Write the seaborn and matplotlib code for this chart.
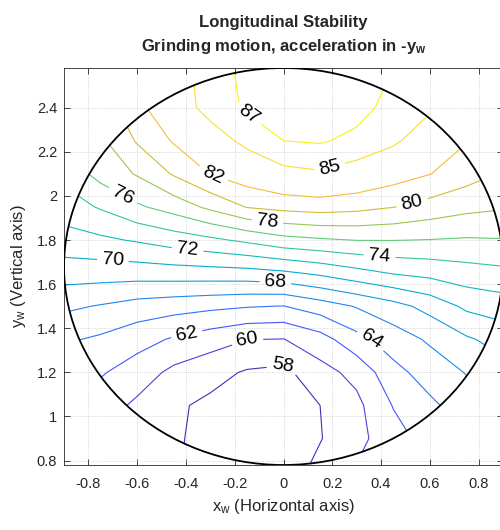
import numpy as np
import matplotlib
matplotlib.use("Agg")
import matplotlib.pyplot as plt
from matplotlib.colors import LinearSegmentedColormap, Normalize
from matplotlib.patches import Circle
from matplotlib.ticker import FormatStrFormatter
import seaborn as sns

# grid of the stability value
x_grid = [-0.9, -0.75, -0.6, -0.45, -0.3, -0.15, 0.0, 0.15, 0.3, 0.45, 0.6, 0.75, 0.9]
y_grid = [0.75, 0.9, 1.05, 1.2, 1.35, 1.5, 1.65, 1.8, 1.95, 2.1, 2.25, 2.4, 2.55, 2.7]
# one row per y value (bottom to top), one column per x value
z_values = [
    [59.8, 59.2, 58.6, 58.2, 57.2, 56.9, 57.0, 58.6, 60.2, 60.6, 62.2, 63.6, 64.6],
    [60.6, 60.0, 59.0, 58.3, 57.3, 56.9, 57.0, 57.9, 59.4, 61.2, 62.8, 64.2, 65.2],
    [61.6, 61.0, 59.6, 58.3, 57.6, 57.2, 57.2, 58.0, 59.5, 62.1, 63.6, 65.0, 66.0],
    [62.8, 62.2, 61.06, 59.5, 58.65, 57.8, 57.5, 59.3, 60.59, 63.38, 64.87, 66.1, 67.2],
    [64.3, 63.68, 62.72, 61.79, 60.9, 60.05, 59.95, 61.17, 63.35, 65.0, 66.29, 67.73, 68.8],
    [66.4, 65.86, 65.2, 64.81, 64.46, 64.14, 63.95, 65.01, 66.14, 67.29, 68.68, 70.41, 71.0],
    [68.9, 68.89, 68.9, 69.03, 69.13, 69.24, 69.64, 70.37, 71.3, 72.13, 72.58, 73.15, 73.5],
    [71.2, 71.63, 72.2, 72.94, 73.6, 74.4, 75.35, 75.75, 76.05, 76.05, 75.95, 75.8, 75.9],
    [73.0, 74.2, 75.7, 76.85, 78.45, 80.1, 80.6, 80.88, 80.6, 80.05, 79.25, 78.56, 78.2],
    [74.6, 76.7, 78.17, 80.2, 82.05, 83.2, 84.35, 84.73, 83.94, 82.98, 82.05, 80.86, 79.8],
    [75.8, 77.6, 80.2, 82.2, 83.84, 85.6, 87.0, 87.2, 86.5, 85.4, 83.6, 82.1, 81.0],
    [76.8, 78.8, 81.4, 83.7, 85.8, 87.3, 88.2, 88.2, 87.7, 86.3, 85.3, 83.0, 82.0],
    [77.5, 79.5, 82.0, 83.9, 86.0, 87.5, 88.8, 88.8, 88.3, 86.9, 86.0, 83.8, 82.8],
    [78.0, 80.0, 82.5, 84.3, 86.6, 88.5, 89.2, 89.3, 89.0, 87.4, 86.6, 84.5, 83.5],
]

levels = [58, 60, 62, 64, 66, 68, 70, 72, 74, 76, 78, 80, 82, 85, 87]
z_min, z_max = 56.9, 88.2

x_ticks = [-0.8, -0.6, -0.4, -0.2, 0, 0.2, 0.4, 0.6, 0.8]
y_ticks = [0.8, 1.0, 1.2, 1.4, 1.6, 1.8, 2.0, 2.2, 2.4]

# workspace boundary (circle)
center_y = 1.68
radius = 0.9

# where each label sits (x, y); the 66 line has none
label_pos = [(-0.004, 1.224), (-0.148, 1.337), (-0.398, 1.382), (0.361, 1.35),
             (-0.033, 1.608), (-0.70, 1.703), (-0.394, 1.748), (0.394, 1.726),
             (-0.665, 1.984), (-0.066, 1.880), (0.529, 1.961), (-0.291, 2.088),
             (0.193, 2.11), (-0.152, 2.355)]

# parula-like colormap
parula = LinearSegmentedColormap.from_list("parula", [
    (0.00, (0.242, 0.150, 0.660)),
    (0.08, (0.278, 0.240, 0.860)),
    (0.16, (0.270, 0.340, 0.985)),
    (0.25, (0.160, 0.480, 0.970)),
    (0.34, (0.080, 0.590, 0.890)),
    (0.42, (0.020, 0.675, 0.830)),
    (0.50, (0.100, 0.740, 0.710)),
    (0.58, (0.280, 0.790, 0.550)),
    (0.66, (0.560, 0.790, 0.330)),
    (0.74, (0.830, 0.740, 0.200)),
    (0.82, (0.995, 0.740, 0.250)),
    (0.90, (0.970, 0.880, 0.170)),
    (1.00, (0.976, 0.983, 0.054)),
])

sns.set_style("ticks")
plt.rcParams['font.family'] = ['Liberation Sans', 'DejaVu Sans']
plt.rcParams['axes.unicode_minus'] = False
plt.rcParams['mathtext.fontset'] = 'custom'
plt.rcParams['mathtext.rm'] = 'Liberation Sans'
plt.rcParams['mathtext.it'] = 'Liberation Sans:italic'
plt.rcParams['mathtext.bf'] = 'Liberation Sans:bold'

fig = plt.figure(figsize=(5, 5.3), dpi=100)
ax = fig.add_axes([64 / 500, 1 - 465 / 530, 439 / 500, 397 / 530])

X, Y = np.meshgrid(x_grid, y_grid)
Z = np.array(z_values)

cs = ax.contour(X, Y, Z, levels=levels, cmap=parula,
                norm=Normalize(vmin=z_min, vmax=z_max), linewidths=0.8)

circle = Circle((0, center_y), radius, transform=ax.transData, fill=False,
                edgecolor='black', linewidth=1.3, zorder=5)
ax.add_patch(circle)
cs.set_clip_path(circle)

ax.clabel(cs, manual=label_pos, inline=True, fontsize=14,
          fmt='%d', colors='black')

ax.set_xlim(-0.9, 0.9)
ax.set_ylim(0.78, 2.58)
ax.set_xticks(x_ticks)
ax.set_yticks(y_ticks)
ax.xaxis.set_major_formatter(FormatStrFormatter('%g'))
ax.yaxis.set_major_formatter(FormatStrFormatter('%g'))
ax.tick_params(direction='in', top=True, right=True, length=4, width=0.6,
               colors='#262626', labelsize=10.5)
ax.tick_params(axis='x', pad=9)
ax.tick_params(axis='y', pad=5)
ax.grid(True, linestyle=':', linewidth=0.6, color='#c8c8c8')
for sp in ax.spines.values():
    sp.set_color('#262626')
    sp.set_linewidth(0.6)

ax.set_title('Longitudinal Stability\nGrinding motion, acceleration in -$\\mathbf{y_w}$',
             fontsize=12, fontweight='bold', pad=12, linespacing=1.5)
ax.set_xlabel('$\\mathrm{x_w}$ (Horizontal axis)', fontsize=12, labelpad=4)
ax.set_ylabel('$\\mathrm{y_w}$ (Vertical axis)', fontsize=12, labelpad=6)

fig.savefig('out.png', dpi=100)
